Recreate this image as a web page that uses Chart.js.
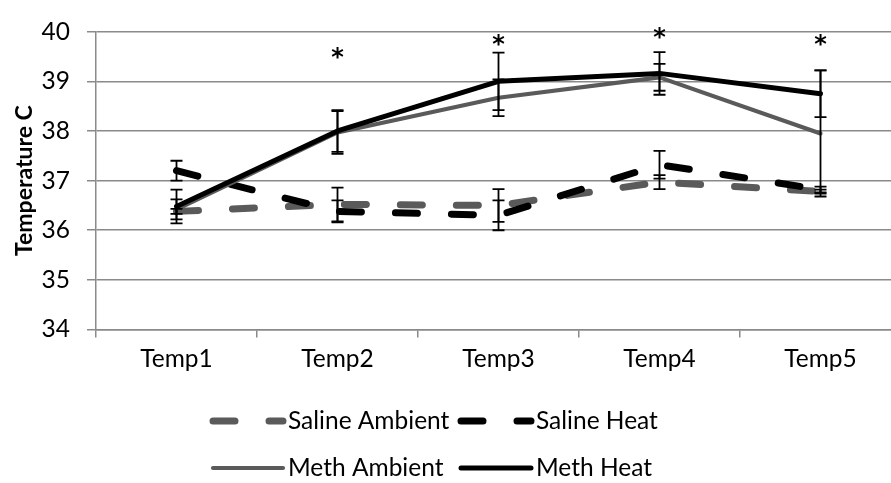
<!DOCTYPE html>
<html><head><meta charset="utf-8">
<script src="https://cdn.jsdelivr.net/npm/chart.js@4.4.1/dist/chart.umd.min.js"></script>
<style>
html,body{margin:0;padding:0;overflow:hidden;background:#fff;width:891px;height:483px}
#wrap{position:relative;width:905px;height:483px}
</style></head><body>
<div id="wrap"><canvas id="c"></canvas></div>
<script>
const categories = ['Temp1', 'Temp2', 'Temp3', 'Temp4', 'Temp5'];
const seriesNames = ['Saline Ambient', 'Saline Heat', 'Meth Ambient', 'Meth Heat'];
const salineAmbient = [36.38, 36.52, 36.50, 36.97, 36.78];
const salineHeat    = [37.20, 36.38, 36.30, 37.32, 36.82];
const methAmbient   = [36.42, 37.97, 38.67, 39.08, 37.95];
const methHeat      = [36.48, 38.00, 39.00, 39.16, 38.75];
const salineAmbientErr = [0.05, 0.34, 0.33, 0.14, 0.04];
const salineHeatErr    = [0.20, 0.22, 0.30, 0.28, 0.06];
const methAmbientErr   = [0.20, 0.43, 0.37, 0.27, 1.27];
const methHeatErr      = [0.34, 0.42, 0.58, 0.43, 0.47];
const significance      = ['', '*', '*', '*', '*'];
const significanceLevel = [null, 39.42, 39.68, 39.82, 39.68];
const yMin = 34, yMax = 40, yStep = 1;

const FONT = 'Lato';
const GRAY = '#5a5a5a';
const GRID = '#8a8a8a';

const errorBarPlugin = {
  id: 'errorBars',
  afterDatasetsDraw(chart) {
    const {ctx, scales: {x, y}} = chart;
    ctx.save();
    ctx.strokeStyle = '#000';
    ctx.lineWidth = 1.8;
    ctx.setLineDash([]);
    chart.data.datasets.forEach(ds => {
      if (!ds.errors) return;
      ds.data.forEach((v, j) => {
        const px = x.getPixelForValue(j);
        const top = y.getPixelForValue(v + ds.errors[j]);
        const bot = y.getPixelForValue(v - ds.errors[j]);
        ctx.beginPath();
        ctx.moveTo(px, top); ctx.lineTo(px, bot);
        ctx.moveTo(px - 6, top); ctx.lineTo(px + 6, top);
        ctx.moveTo(px - 6, bot); ctx.lineTo(px + 6, bot);
        ctx.stroke();
      });
    });
    ctx.fillStyle = '#000';
    ctx.font = 'bold 24px "DejaVu Sans"';
    ctx.textAlign = 'center';
    ctx.textBaseline = 'middle';
    significance.forEach((s, j) => {
      if (!s) return;
      ctx.fillText(s, x.getPixelForValue(j), y.getPixelForValue(significanceLevel[j]) - 2);
    });
    ctx.restore();
  }
};

const legendPlugin = {
  id: 'customLegend',
  afterDraw(chart) {
    const {ctx} = chart;
    const cols = [213, 461];
    const rows = [421, 468];
    ctx.save();
    chart.data.datasets.forEach((ds, i) => {
      const x0 = cols[i % 2], yy = rows[Math.floor(i / 2)];
      ctx.beginPath();
      ctx.strokeStyle = ds.borderColor;
      ctx.lineWidth = ds.borderWidth;
      ctx.lineCap = 'round';
      ctx.setLineDash(ds.borderDash || []);
      ctx.moveTo(x0, yy);
      ctx.lineTo(x0 + 70, yy);
      ctx.stroke();
      ctx.setLineDash([]);
      ctx.fillStyle = '#000';
      ctx.font = '24.5px ' + FONT;
      ctx.textAlign = 'left';
      ctx.textBaseline = 'middle';
      ctx.fillText(ds.label, x0 + 75, yy);
    });
    ctx.restore();
  }
};

new Chart(document.getElementById('c'), {
  type: 'line',
  data: {
    labels: categories,
    datasets: [
      {label: seriesNames[0], data: salineAmbient, errors: salineAmbientErr, borderColor: GRAY, borderWidth: 7, borderDash: [22, 34], borderCapStyle: 'round', order: 4},
      {label: seriesNames[1], data: salineHeat, errors: salineHeatErr, borderColor: '#000', borderWidth: 7, borderDash: [22, 34], borderCapStyle: 'round', order: 3},
      {label: seriesNames[2], data: methAmbient, errors: methAmbientErr, borderColor: GRAY, borderWidth: 4.2, borderCapStyle: 'round', order: 2},
      {label: seriesNames[3], data: methHeat, errors: methHeatErr, borderColor: '#000', borderWidth: 5, borderCapStyle: 'round', order: 1}
    ].map(d => Object.assign({pointRadius: 0, tension: 0, fill: false, borderJoinStyle: 'round'}, d))
  },
  options: {
    responsive: true,
    maintainAspectRatio: false,
    animation: false,
    layout: {padding: {left: 0, top: 22, right: 4, bottom: 103.5}},
    plugins: {legend: {display: false}, tooltip: {enabled: false}},
    scales: {
      x: {
        type: 'category',
        offset: true,
        grid: {offset: true, drawOnChartArea: false, drawTicks: true, tickLength: 8, color: GRID, lineWidth: 1.5},
        border: {color: GRID, width: 1.5},
        ticks: {color: '#000', font: {family: FONT, size: 24.5}, padding: 7},
        afterFit(s) { s.height = 50; }
      },
      y: {
        min: yMin, max: yMax,
        ticks: {stepSize: yStep, color: '#000', font: {family: FONT, size: 24.5}, padding: 17},
        grid: {color: GRID, lineWidth: 1.5, tickLength: 9},
        border: {color: GRID, width: 1.5},
        title: {display: true, text: 'Temperature C', color: '#000', font: {family: FONT, size: 23, weight: 'bold'}, padding: {top: 11, bottom: 0}},
        afterFit(s) { s.width = 96; }
      }
    }
  },
  plugins: [errorBarPlugin, legendPlugin]
});
</script>
</body></html>
